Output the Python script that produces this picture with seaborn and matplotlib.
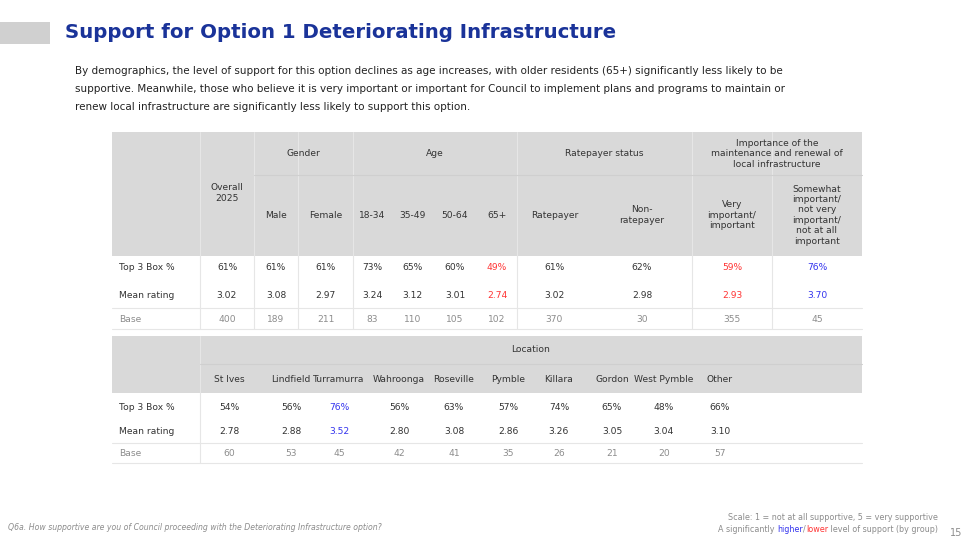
import matplotlib
matplotlib.use("Agg")
import matplotlib.pyplot as plt
import seaborn as sns
from matplotlib.patches import Rectangle

sns.set_theme(style="white")
plt.rcParams['font.family'] = ['DejaVu Sans']

title = "Support for Option 1 Deteriorating Infrastructure"
body = ["By demographics, the level of support for this option declines as age increases, with older residents (65+) significantly less likely to be",
        "supportive. Meanwhile, those who believe it is very important or important for Council to implement plans and programs to maintain or",
        "renew local infrastructure are significantly less likely to support this option."]

row_labels = ["Top 3 Box %", "Mean rating", "Base"]
t1_cols = ["Overall\n2025", "Male", "Female", "18-34", "35-49", "50-64", "65+", "Ratepayer", "Non-\nratepayer",
           "Very\nimportant/\nimportant", "Somewhat\nimportant/\nnot very\nimportant/\nnot at all\nimportant"]
t1_groups = [("Gender", 1, 2), ("Age", 3, 6), ("Ratepayer status", 7, 8),
             ("Importance of the\nmaintenance and renewal of\nlocal infrastructure", 9, 10)]
t1_top3 = ["61%", "61%", "61%", "73%", "65%", "60%", "49%", "61%", "62%", "59%", "76%"]
t1_mean = ["3.02", "3.08", "2.97", "3.24", "3.12", "3.01", "2.74", "3.02", "2.98", "2.93", "3.70"]
t1_base = ["400", "189", "211", "83", "110", "105", "102", "370", "30", "355", "45"]
t1_sig = ["", "", "", "", "", "", "L", "", "", "L", "H"]

t2_cols = ["St Ives", "Lindfield", "Turramurra", "Wahroonga", "Roseville", "Pymble", "Killara", "Gordon", "West Pymble", "Other"]
t2_top3 = ["54%", "56%", "76%", "56%", "63%", "57%", "74%", "65%", "48%", "66%"]
t2_mean = ["2.78", "2.88", "3.52", "2.80", "3.08", "2.86", "3.26", "3.05", "3.04", "3.10"]
t2_base = ["60", "53", "45", "42", "41", "35", "26", "21", "20", "57"]
t2_sig = ["", "", "H", "", "", "", "", "", "", ""]

HDR = "#d9d9d9"; LINE = "#e6e6e6"; TXT = "#333333"; GREY = "#8c8c8c"
RED = "#ff3333"; BLUE = "#3333ee"; TITLE = "#1a3399"
FS = 6.6

fig = plt.figure(figsize=(9.66, 5.43), dpi=100)
ax = fig.add_axes([0, 0, 1, 1])
ax.set_xlim(0, 966); ax.set_ylim(543, 0); ax.axis("off")

ax.add_patch(Rectangle((0, 22), 50, 22, color="#d0d0d0", lw=0))
ax.text(65, 33, title, color=TITLE, fontsize=14.2, fontweight="bold", va="center")
for i, line in enumerate(body):
    ax.text(75, 71 + i * 18, line, color="#222222", fontsize=7.45, va="center")

def col(sig):
    return RED if sig == "L" else BLUE if sig == "H" else TXT

def table(x0, x1, top, hdr_bot, rows_y, sep_y, bottom, vlines):
    ax.add_patch(Rectangle((x0, top), x1 - x0, hdr_bot - top, color=HDR, lw=0))
    for v in vlines:
        ax.plot([v, v], [top, bottom], color=LINE, lw=0.8)
    ax.plot([x0, x1], [sep_y, sep_y], color=LINE, lw=0.8)
    ax.plot([x0, x1], [bottom, bottom], color=LINE, lw=0.8)
    for lab, y in zip(row_labels, rows_y):
        ax.text(x0 + 7, y, lab, fontsize=FS, va="center", color=GREY if lab == "Base" else TXT)

# Table 1
e1 = [112, 200, 254, 298, 353, 392, 433, 477, 517, 592, 692, 772, 862]
c1 = [(a + b) / 2 for a, b in zip(e1[1:-1], e1[2:])]
table(112, 862, 132, 256, [268, 296, 319], 308, 329, [200, 254, 298, 353, 517, 692, 772])
ax.plot([254, 862], [175, 175], color="#cfcfcf", lw=0.8)
ax.text(c1[0], 193, t1_cols[0], ha="center", va="center", fontsize=FS, color=TXT, linespacing=1.2)
for i in range(1, len(t1_cols)):
    ax.text(c1[i], 215, t1_cols[i], ha="center", va="center", fontsize=FS, color=TXT, linespacing=1.2)
for g, a, b in t1_groups:
    ax.text((e1[a + 1] + e1[b + 2]) / 2, 154, g, ha="center", va="center", fontsize=FS, color=TXT, linespacing=1.2)
for i in range(len(t1_cols)):
    ax.text(c1[i], 268, t1_top3[i], ha="center", va="center", fontsize=FS, color=col(t1_sig[i]))
    ax.text(c1[i], 296, t1_mean[i], ha="center", va="center", fontsize=FS, color=col(t1_sig[i]))
    ax.text(c1[i], 319, t1_base[i], ha="center", va="center", fontsize=FS, color=GREY)

# Table 2
x2 = [229, 291, 339, 399, 454, 508, 559, 612, 664, 720]
table(112, 862, 336, 393, [407, 431, 453], 443, 463, [200])
ax.plot([200, 862], [364, 364], color="#cfcfcf", lw=0.8)
ax.text(531, 350, "Location", ha="center", va="center", fontsize=FS, color=TXT)
for i in range(len(t2_cols)):
    x = x2[i]
    ax.text(x, 379, t2_cols[i], ha="center", va="center", fontsize=FS, color=TXT)
    ax.text(x, 407, t2_top3[i], ha="center", va="center", fontsize=FS, color=col(t2_sig[i]))
    ax.text(x, 431, t2_mean[i], ha="center", va="center", fontsize=FS, color=col(t2_sig[i]))
    ax.text(x, 453, t2_base[i], ha="center", va="center", fontsize=FS, color=GREY)

ax.text(8, 528, "Q6a. How supportive are you of Council proceeding with the Deteriorating Infrastructure option?",
        fontsize=5.6, style="italic", color=GREY, va="center")
ax.text(938, 517, "Scale: 1 = not at all supportive, 5 = very supportive", fontsize=5.8, color=GREY, ha="right", va="center")
parts = [("A significantly ", GREY), ("higher", BLUE), ("/", GREY), ("lower", RED), (" level of support (by group)", GREY)]
fig.canvas.draw()
r = fig.canvas.get_renderer()
ws = []
for s, c in parts:
    t = ax.text(0, 0, s, fontsize=5.8)
    ws.append(t.get_window_extent(r).width); t.remove()
x = 938 - sum(ws)
for (s, c), w in zip(parts, ws):
    ax.text(x, 529, s, fontsize=5.8, color=c, va="center")
    x += w
ax.text(950, 533, "15", fontsize=7, color=GREY, va="center")

fig.savefig("out.png", dpi=100)
